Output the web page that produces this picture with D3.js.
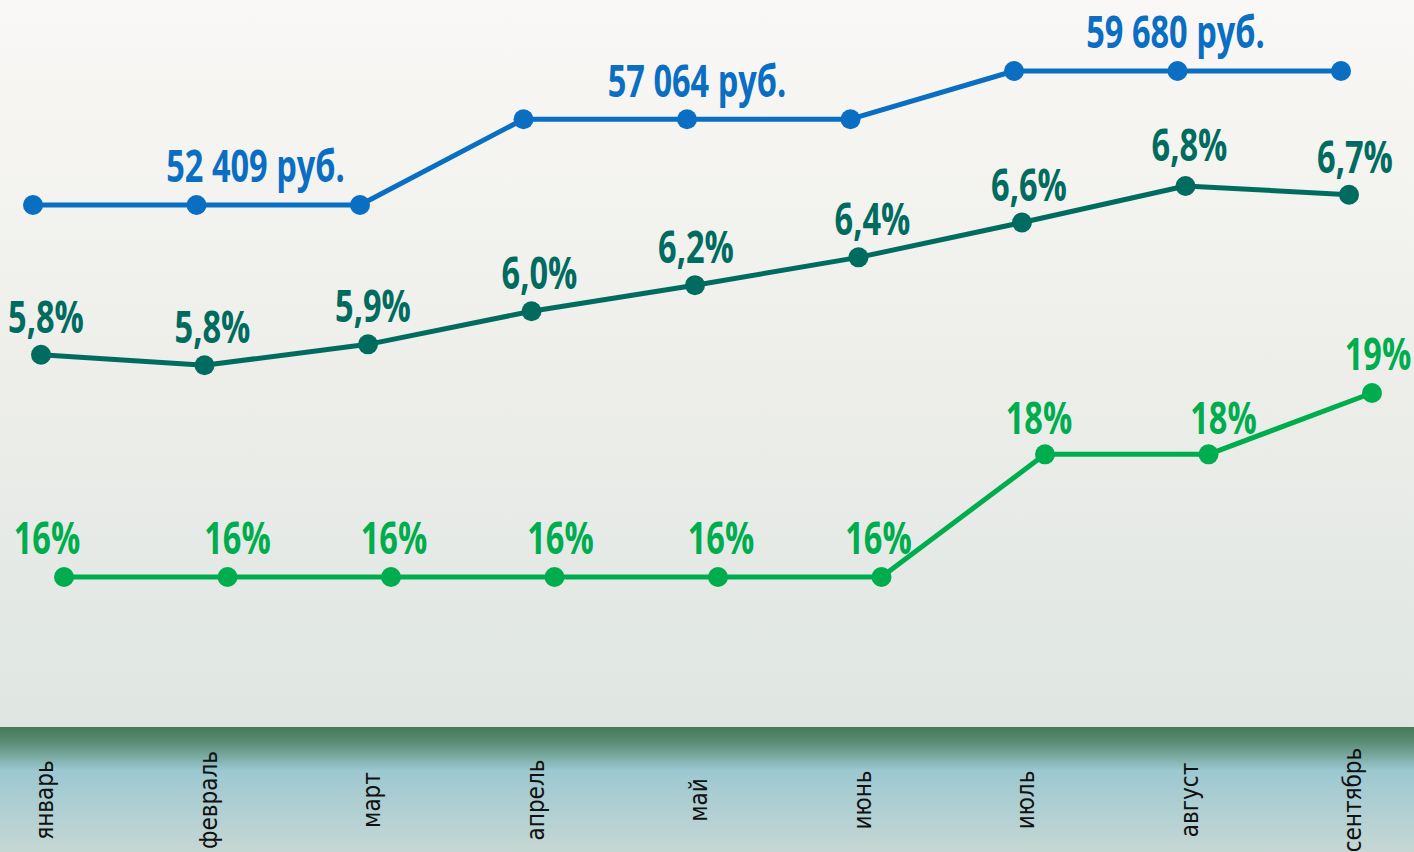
<!DOCTYPE html>
<html>
<head>
<meta charset="utf-8">
<script src="https://d3js.org/d3.v7.min.js"></script>
<style>
  body { margin: 0; overflow: hidden; }
  text { font-family: "DejaVu Sans Condensed", "Liberation Sans", sans-serif; }
  text.val { font-family: "Open Sans", "DejaVu Sans Condensed", sans-serif; font-weight: bold; }
</style>
</head>
<body>
<script>
// months on the x axis
var months = ["январь", "февраль", "март", "апрель", "май", "июнь", "июль", "август", "сентябрь"];

// average salary, rub
var salary = [52409, 52409, 52409, 57064, 57064, 57064, 59680, 59680, 59680];
var salaryLabels = ["", "52 409 руб.", "", "", "57 064 руб.", "", "", "59 680 руб.", ""];

// dark teal line, percent
var rateA = [5.83, 5.77, 5.89, 6.08, 6.23, 6.39, 6.59, 6.80, 6.75];
var rateALabels = ["5,8%", "5,8%", "5,9%", "6,0%", "6,2%", "6,4%", "6,6%", "6,8%", "6,7%"];

// green line, percent
var rateB = [16, 16, 16, 16, 16, 16, 18, 18, 19];
var rateBLabels = ["16%", "16%", "16%", "16%", "16%", "16%", "18%", "18%", "19%"];

var W = 1414, H = 852;

var svg = d3.select("body").append("svg")
  .attr("width", W).attr("height", H);

var defs = svg.append("defs");
var bg = defs.append("linearGradient").attr("id", "bg")
  .attr("x1", 0).attr("y1", 0).attr("x2", 0).attr("y2", 1);
bg.append("stop").attr("offset", "0%").attr("stop-color", "#f9f8f6");
bg.append("stop").attr("offset", "45%").attr("stop-color", "#efefeb");
bg.append("stop").attr("offset", "100%").attr("stop-color", "#dfe6e2");

var band = defs.append("linearGradient").attr("id", "band")
  .attr("x1", 0).attr("y1", 0).attr("x2", 0).attr("y2", 1);
band.append("stop").attr("offset", "0%").attr("stop-color", "#467858");
band.append("stop").attr("offset", "12%").attr("stop-color", "#5a8c74");
band.append("stop").attr("offset", "35%").attr("stop-color", "#9cc8d1");
band.append("stop").attr("offset", "100%").attr("stop-color", "#c6d7d4");

svg.append("rect").attr("width", W).attr("height", 727).attr("fill", "url(#bg)");
svg.append("rect").attr("y", 727).attr("width", W).attr("height", H - 727).attr("fill", "url(#band)");

// scales
var x = d3.scalePoint().domain(months).range([33, 1341]);
var ySal = d3.scaleLinear().domain([52409, 59680]).range([205, 71]);
var yA = d3.scaleLinear().domain([5.8, 6.8]).range([360, 186]);
var yB = d3.scaleLinear().domain([16, 19]).range([577, 393]);

function drawSeries(values, yScale, shift, color) {
  var pts = values.map(function(v, i) { return [x(months[i]) + shift, yScale(v)]; });
  svg.append("path")
    .attr("d", d3.line()(pts))
    .attr("fill", "none")
    .attr("stroke", color)
    .attr("stroke-width", 5)
    .attr("stroke-linejoin", "round");
  svg.selectAll(null).data(pts).enter().append("circle")
    .attr("cx", function(d) { return d[0]; })
    .attr("cy", function(d) { return d[1]; })
    .attr("r", 10)
    .attr("fill", color);
  return pts;
}

// condensed bold labels: squeeze the glyphs horizontally
function drawLabels(pts, labels, color, dxs, dys) {
  svg.selectAll(null).data(labels).enter().append("text")
    .attr("class", "val")
    .attr("transform", function(d, i) {
      return "translate(" + (pts[i][0] + dxs[i]) + "," + (pts[i][1] + dys[i]) + ") scale(0.74,1)";
    })
    .attr("text-anchor", "middle")
    .attr("font-size", 44)
    .attr("fill", color)
    .text(function(d) { return d; });
}

var blue = "#0a6ec2", teal = "#006b5f", green = "#00ad4e";

var pSal = drawSeries(salary, ySal, 0, blue);
var pA = drawSeries(rateA, yA, 8, teal);
var pB = drawSeries(rateB, yB, 31, green);

drawLabels(pSal, salaryLabels, blue, [0, 59, 0, 0, 10, 0, 0, -2, 0],
  [0, -23, 0, 0, -22, 0, 0, -23, 0]);
drawLabels(pA, rateALabels, teal, [5, 8, 5, 8, 1, 14, 7, 4, 6],
  [-22, -22, -22, -22, -22, -22, -22, -25, -22]);
drawLabels(pB, rateBLabels, green, [-17, 10, 3, 6, 3, -3, -6, 15, 6],
  [-23, -23, -23, -23, -23, -23, -20, -20, -23]);

// month labels in the bottom band
svg.selectAll(null).data(months).enter().append("text")
  .attr("transform", function(d) { return "translate(" + (x(d) + 12) + ",800) rotate(-90)"; })
  .attr("text-anchor", "middle")
  .attr("dominant-baseline", "central")
  .attr("font-size", 24)
  .attr("fill", "#111")
  .text(function(d) { return d; });
</script>
</body>
</html>
